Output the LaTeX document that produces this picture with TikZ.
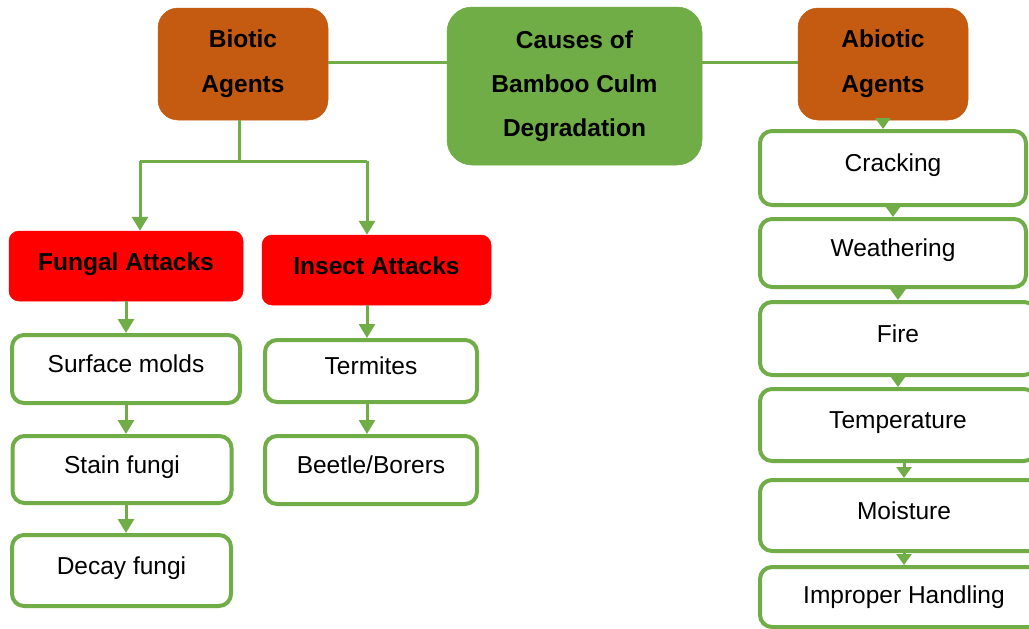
\documentclass[tikz,border=0pt]{standalone}
\usepackage{fontspec}
\setmainfont{Liberation Sans}
\usetikzlibrary{arrows.meta}
\definecolor{cgreen}{HTML}{70AD47}
\definecolor{corange}{HTML}{C55A11}
\definecolor{cred}{HTML}{FF0000}
\tikzset{
 topbox/.style={fill=corange, draw=corange, line width=0.5pt, rounded corners=20pt, align=center, font=\fontsize{24.5}{45}\selectfont\bfseries, inner sep=0pt},
 rootbox/.style={topbox, fill=cgreen, draw=cgreen, font=\fontsize{24.5}{44}\selectfont\bfseries, rounded corners=25pt},
 redbox/.style={fill=cred, draw=cred, line width=0.5pt, rounded corners=10pt, font=\fontsize{24.5}{29}\selectfont\bfseries, text height=17.5pt, text depth=8pt, inner sep=0pt},
 whitebox/.style={fill=white, draw=cgreen, line width=4pt, rounded corners=12pt, font=\fontsize{24.5}{29}\selectfont, text height=17.5pt, text depth=10pt, inner sep=0pt},
 link/.style={draw=cgreen, line width=3pt},
 arr/.style={link, -{Triangle[width=16pt,length=14pt]}},
 sarr/.style={link, -{Triangle[width=15pt,length=11pt]}},
}
\begin{document}
\begin{tikzpicture}[x=1pt,y=-1pt]
\clip (0,0) rectangle (1029,629);
\fill[white] (0,0) rectangle (1029,629);
% top row
\node[topbox, minimum width=170pt, minimum height=112pt] (biotic) at (243,64) {Biotic\\Agents};
\node[rootbox, minimum width=255pt, minimum height=158pt] (causes) at (574.5,86) {Causes of\\Bamboo Culm\\Degradation};
\node[topbox, minimum width=170pt, minimum height=112pt] (abiotic) at (883,64) {Abiotic\\Agents};
% biotic branch
\node[redbox, minimum width=234pt, minimum height=70pt] (fungal) at (126,266) {Fungal Attacks};
\node[redbox, minimum width=229pt, minimum height=70pt] (insect) at (376.5,270) {Insect Attacks};
\node[whitebox, minimum width=228pt, minimum height=68pt] (surface) at (126,369) {Surface molds};
\node[whitebox, minimum width=219pt, minimum height=67pt] (stain) at (122,469.5) {Stain fungi};
\node[whitebox, minimum width=219pt, minimum height=71pt] (decay) at (121.5,570.5) {Decay fungi};
\node[whitebox, minimum width=212pt, minimum height=62pt] (termites) at (371,371) {Termites};
\node[whitebox, minimum width=212pt, minimum height=68pt] (beetle) at (371,470) {Beetle/Borers};
% abiotic column
\node[whitebox, minimum width=266pt, minimum height=74pt] (cracking) at (893,168) {Cracking};
\node[whitebox, minimum width=266pt, minimum height=68pt] (weathering) at (893,253) {Weathering};
\node[whitebox, minimum width=276pt, minimum height=73pt] (fire) at (898,338.5) {Fire};
\node[whitebox, minimum width=276pt, minimum height=72pt] (temperature) at (898,425) {Temperature};
\node[whitebox, minimum width=288pt, minimum height=71pt] (moisture) at (904,515.5) {Moisture};
\node[whitebox, minimum width=288pt, minimum height=60pt, text depth=4pt] (improper) at (904,597) {Improper Handling};
% connectors top
\coordinate (hy) at (0,62);
\draw[link] (biotic.east |- hy) -- (causes.west |- hy);
\draw[link] (causes.east |- hy) -- (abiotic.west |- hy);
% biotic split
\coordinate (bj) at (239,161);
\coordinate (fj) at (140,161);
\coordinate (ij) at (367,161);
\draw[link] (biotic.south -| bj) -- (bj);
\draw[link] (fj) -- (ij);
\draw[arr] (fj) -- (fungal.north -| fj);
\draw[arr] (ij) -- (insect.north -| ij);
% fungal chain
\draw[arr] (fungal.south -| surface) -- (surface.north);
\draw[arr] (surface.south) -- (surface.south |- stain.north);
\draw[arr] (stain.south -| surface) -- (decay.north -| surface);
% insect chain
\draw[arr] (insect.south -| ij) -- (termites.north -| ij);
\draw[arr] (termites.south -| ij) -- (beetle.north -| ij);
% abiotic chain
\draw[sarr] (abiotic.south) -- (abiotic.south |- cracking.north);
\draw[sarr] (cracking.south) -- (weathering.north);
\draw[sarr] (fire.north |- weathering.south) -- (fire.north);
\draw[sarr] (fire.south) -- (temperature.north);
\draw[sarr] (moisture.north |- temperature.south) -- (moisture.north);
\draw[sarr] (moisture.south) -- (improper.north);
\end{tikzpicture}
\end{document}
